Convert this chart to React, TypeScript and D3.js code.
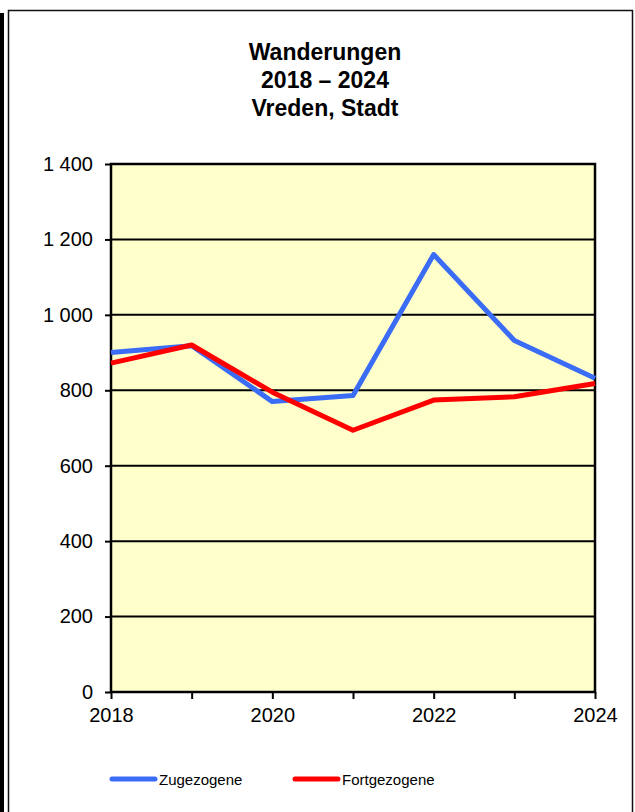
import { useEffect, useRef } from 'react';
import * as d3 from 'd3';

const years = [2018, 2019, 2020, 2021, 2022, 2023, 2024];
const zugezogene = [900, 918, 770, 786, 1160, 932, 832];
const fortgezogene = [872, 920, 795, 694, 774, 783, 818];
const yTicks = [0, 200, 400, 600, 800, 1000, 1200, 1400];
const xLabels = [2018, 2020, 2022, 2024];
const titleLines = ['Wanderungen', '2018 – 2024', 'Vreden, Stadt'];

const fmt = (v: number) => (v >= 1000 ? `${Math.floor(v / 1000)} ${String(v % 1000).padStart(3, '0')}` : String(v));

export default function App() {
  const svgRef = useRef<SVGSVGElement>(null);
  const width = 635;
  const height = 812;
  const left = 111;
  const right = 595;
  const top = 164;
  const bottom = 692;

  useEffect(() => {
    const svg = d3.select(svgRef.current);
    svg.selectAll('*').remove();

    // frame
    svg.append('rect').attr('x', 0).attr('y', 13).attr('width', 4).attr('height', height - 13).attr('fill', '#000');
    svg.append('rect')
      .attr('x', 8.5).attr('y', 10.5).attr('width', 624).attr('height', height + 10)
      .attr('fill', '#fff').attr('stroke', '#111').attr('stroke-width', 1.5);

    const x = d3.scaleLinear().domain([2018, 2024]).range([left, right]);
    const y = d3.scaleLinear().domain([0, 1400]).range([bottom, top]);

    svg.append('rect')
      .attr('x', left).attr('y', top).attr('width', right - left).attr('height', bottom - top)
      .attr('fill', '#ffffcc');

    // gridlines
    svg.append('g').selectAll('line')
      .data(yTicks.slice(1, -1))
      .join('line')
      .attr('x1', left).attr('x2', right)
      .attr('y1', d => y(d)).attr('y2', d => y(d))
      .attr('stroke', '#000').attr('stroke-width', 2);

    svg.append('rect')
      .attr('x', left).attr('y', top).attr('width', right - left).attr('height', bottom - top)
      .attr('fill', 'none').attr('stroke', '#000').attr('stroke-width', 2.5);

    const yAxis = svg.append('g')
      .attr('transform', `translate(${left},0)`)
      .call(d3.axisLeft(y).tickValues(yTicks).tickFormat(d => fmt(+d)).tickSize(6).tickPadding(12));
    yAxis.select('.domain').remove();
    yAxis.selectAll('line').attr('stroke', '#000').attr('stroke-width', 2);
    yAxis.selectAll('text').attr('font-size', 20).attr('font-family', 'Liberation Sans, Arial, sans-serif').attr('fill', '#000');

    const xAxis = svg.append('g')
      .attr('transform', `translate(0,${bottom})`)
      .call(d3.axisBottom(x).tickValues(years).tickFormat(d => (xLabels.includes(+d) ? String(d) : '')).tickSize(7).tickPadding(9));
    xAxis.select('.domain').remove();
    xAxis.selectAll('line').attr('stroke', '#000').attr('stroke-width', 2);
    xAxis.selectAll('text').attr('font-size', 20).attr('font-family', 'Liberation Sans, Arial, sans-serif').attr('fill', '#000');

    const line = d3.line<number>()
      .x((_, i) => x(years[i]))
      .y(d => y(d));

    svg.append('path').datum(zugezogene).attr('d', line)
      .attr('fill', 'none').attr('stroke', '#3b6cf6').attr('stroke-width', 5).attr('stroke-linejoin', 'round');
    svg.append('path').datum(fortgezogene).attr('d', line)
      .attr('fill', 'none').attr('stroke', '#ff0000').attr('stroke-width', 5).attr('stroke-linejoin', 'round');

    // title
    svg.append('text')
      .attr('x', 325).attr('y', 60)
      .attr('text-anchor', 'middle')
      .attr('font-family', 'Liberation Sans, Arial, sans-serif')
      .attr('font-weight', 'bold').attr('font-size', 23)
      .selectAll('tspan')
      .data(titleLines)
      .join('tspan')
      .attr('x', 325)
      .attr('dy', (_, i) => (i === 0 ? 0 : 28))
      .text(d => d);

    // legend
    const legend = [
      { name: 'Zugezogene', color: '#3b6cf6', x0: 112 },
      { name: 'Fortgezogene', color: '#ff0000', x0: 295 },
    ];
    const lg = svg.append('g').selectAll('g').data(legend).join('g');
    lg.append('line')
      .attr('x1', d => d.x0).attr('x2', d => d.x0 + 43)
      .attr('y1', 779).attr('y2', 779)
      .attr('stroke', d => d.color).attr('stroke-width', 5).attr('stroke-linecap', 'round');
    lg.append('text')
      .attr('x', d => d.x0 + 47).attr('y', 785)
      .attr('font-family', 'Liberation Sans, Arial, sans-serif').attr('font-size', 15)
      .text(d => d.name);
  }, []);

  return (
    <svg ref={svgRef} width={width} height={height}
      style={{ position: 'absolute', left: 0, top: 0, background: '#fff' }} />
  );
}
